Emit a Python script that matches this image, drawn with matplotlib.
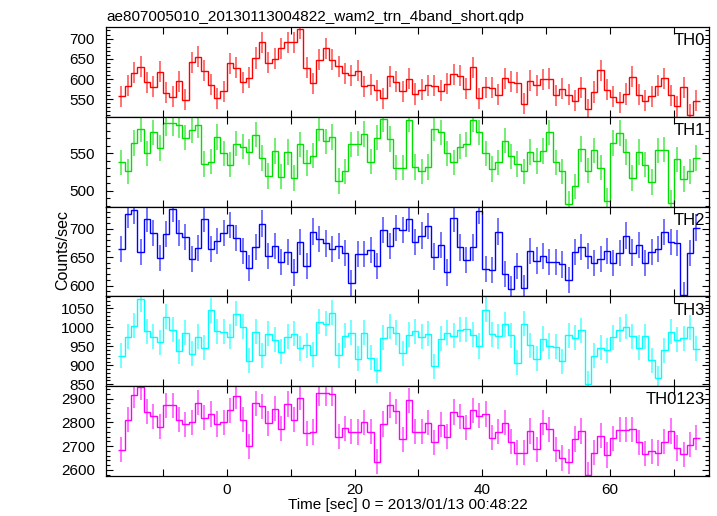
import matplotlib
matplotlib.use("Agg")
import matplotlib.pyplot as plt
import numpy as np
from matplotlib.ticker import MultipleLocator

plt.rcParams["font.family"] = ["Liberation Sans", "DejaVu Sans"]

# bins: 1 sec wide, from -17 s to 74 s
t_start = -17
t_stop = 74

th0 = [558, 584, 616, 630, 592, 581, 618, 566, 556, 595, 549, 642, 655, 620, 586,
       552, 570, 639, 628, 592, 603, 652, 691, 640, 650, 676, 691, 691, 724, 628,
       589, 648, 676, 648, 632, 614, 609, 620, 582, 586, 572, 552, 607, 593,
       570, 601, 563, 573, 585, 584, 571, 588, 612, 608, 576, 629, 553, 580, 579,
       561, 602, 593, 591, 539, 596, 585, 599, 601, 560, 576, 561, 546, 579, 525,
       568, 622, 574, 556, 543, 563, 606, 561, 546, 558, 584, 602, 560, 533, 580,
       512, 546]
th1 = [538, 526, 564, 582, 550, 578, 557, 590, 590, 588, 571, 581, 588, 536, 539,
       572, 550, 535, 563, 559, 552, 575, 544, 520, 553, 519, 552, 517, 562, 537,
       547, 583, 566, 572, 513, 526, 562, 563, 576, 539, 571, 596, 569, 531,
       531, 595, 532, 526, 532, 583, 578, 550, 538, 559, 562, 595, 578, 550, 529,
       538, 567, 546, 536, 526, 552, 540, 553, 578, 538, 526, 483, 506, 556, 527,
       554, 531, 487, 564, 577, 552, 517, 552, 535, 512, 554, 555, 484, 542, 516,
       526, 544]
th2 = [664, 725, 732, 659, 717, 692, 649, 690, 735, 693, 686, 647, 666, 717, 665,
       678, 693, 707, 684, 661, 631, 668, 709, 652, 669, 642, 659, 623, 677, 635,
       695, 682, 674, 665, 670, 657, 605, 656, 656, 662, 635, 698, 670, 701,
       698, 717, 677, 688, 704, 651, 671, 623, 718, 667, 645, 667, 731, 629, 627,
       695, 620, 594, 634, 595, 660, 644, 652, 642, 641, 637, 610, 659, 668, 652,
       640, 647, 661, 640, 657, 688, 658, 671, 639, 659, 665, 694, 677, 675, 584,
       657, 702]
th3 = [925, 976, 1005, 1075, 990, 976, 961, 1028, 994, 937, 986, 931, 976, 947, 1045,
       990, 988, 976, 1036, 1002, 912, 988, 926, 983, 968, 936, 976, 983, 945, 953,
       928, 1015, 1010, 1039, 926, 978, 986, 918, 986, 920, 887, 973, 1002, 986,
       932, 981, 990, 976, 983, 897, 970, 986, 978, 994, 995, 981, 951, 1047, 982,
       977, 1009, 979, 907, 1010, 953, 918, 970, 951, 949, 911, 979, 973, 993, 851,
       925, 946, 940, 974, 994, 1002, 977, 946, 977, 914, 866, 940, 988, 968, 972,
       1000, 944]
th0123 = [2684, 2811, 2913, 2947, 2845, 2826, 2781, 2872, 2872, 2811, 2791, 2800, 2883,
          2819, 2835, 2793, 2800, 2850, 2909, 2811, 2699, 2880, 2867, 2795, 2858,
          2773, 2877, 2811, 2904, 2753, 2759, 2923, 2923, 2921, 2739, 2774, 2760,
          2759, 2800, 2760, 2634, 2793, 2873, 2846,
          2728, 2892, 2760, 2760, 2798, 2716, 2790, 2740, 2843, 2825, 2777, 2850,
          2828, 2835, 2735, 2761, 2798, 2719, 2672, 2672, 2763, 2686, 2798, 2770,
          2685, 2650, 2634, 2730, 2763, 2580, 2672, 2744, 2662, 2732, 2769, 2769,
          2770, 2716, 2668, 2678, 2671, 2718, 2763, 2692, 2665, 2705, 2735]

series = [th0, th1, th2, th3, th0123]
names = ["TH0", "TH1", "TH2", "TH3", "TH0123"]
errors = [26, 17, 23, 33, 53]
colors = ["#ff0000", "#00e000", "#0000ff", "#00ffff", "#ff00ff"]
ylims = [(507, 729), (479, 599), (581, 739), (845, 1082), (2574, 2952)]
y_major = [50, 50, 50, 50, 100]
y_minor = [10, 10, 10, 10, 20]

fig, axes = plt.subplots(5, 1, sharex=True, figsize=(7.17, 5.16), dpi=100)
fig.subplots_adjust(left=0.148, right=0.989, top=0.948, bottom=0.0775, hspace=0)

edges = np.arange(t_start, t_stop + 1)
centers = edges[:-1] + 0.5

for ax, vals, name, err, col, yl, ymaj, ymin in zip(
        axes, series, names, errors, colors, ylims, y_major, y_minor):
    vals = np.array(vals, dtype=float)
    ax.errorbar(centers, vals, yerr=err, fmt="none", ecolor=col, elinewidth=1.4,
                alpha=0.55)
    ax.stairs(vals, edges, baseline=None, color=col, linewidth=1.0)
    ax.set_ylim(*yl)
    ax.set_xlim(-18.9, 75.5)
    ax.yaxis.set_major_locator(MultipleLocator(ymaj))
    ax.yaxis.set_minor_locator(MultipleLocator(ymin))
    ax.xaxis.set_major_locator(MultipleLocator(20))
    ax.xaxis.set_minor_locator(MultipleLocator(10))
    ax.tick_params(which="both", direction="in", top=True, right=True,
                   labelsize=11, width=0.8)
    ax.tick_params(which="major", length=5)
    ax.tick_params(which="minor", length=3)
    ax.tick_params(axis="y", pad=8)
    ax.tick_params(axis="x", which="minor", length=5)
    ax.tick_params(axis="x", pad=5)
    for s in ax.spines.values():
        s.set_linewidth(0.9)
    ax.text(0.993, 0.93, name, transform=ax.transAxes, ha="right", va="top",
            fontsize=12)

axes[-1].set_xlabel("Time [sec] 0 = 2013/01/13 00:48:22", fontsize=11, labelpad=1)
fig.text(0.087, 0.515, "Counts/sec", rotation=90, ha="center", va="center",
         fontsize=11.5)
fig.text(0.149, 1 - 21 / 516, "ae807005010_20130113004822_wam2_trn_4band_short.qdp",
         ha="left", va="baseline", fontsize=11)

fig.savefig("out.png", dpi=100)
